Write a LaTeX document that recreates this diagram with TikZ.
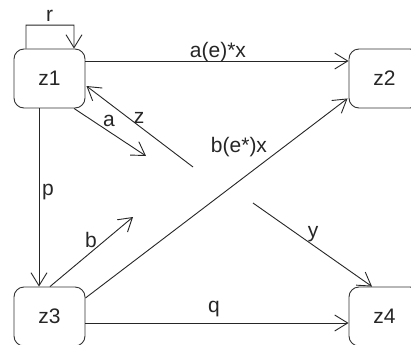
\documentclass[tikz,border=0pt]{standalone}
\usepackage{fontspec}
\setmainfont{Liberation Sans}
\usetikzlibrary{arrows.meta,calc}
\begin{document}
\begin{tikzpicture}[x=1bp,y=-1bp,
  state/.style={draw=black!80, line width=0.9bp, rounded corners=10bp, minimum width=71bp, minimum height=59bp, inner sep=0pt, font=\fontsize{21bp}{25bp}\selectfont, text=black!85},
  arr/.style={draw=black!85, line width=0.9bp, -{Straight Barb[length=13bp,width=16bp,line width=0.9bp]}},
  lbl/.style={font=\fontsize{21bp}{25bp}\selectfont, text=black!85, inner sep=0pt}]
\useasboundingbox (0,0) rectangle (411,345);
\clip (0,0) rectangle (411,345);
\fill[white] (0,0) rectangle (411,345);
% states
\node[state] (z1) at (49.5,78.5) {z1};
\node[state] (z2) at (384.5,78.5) {z2};
\node[state] (z3) at (49.5,316.5) {z3};
\node[state] (z4) at (384.5,316.5) {z4};
% free ends
\coordinate (zs) at (193,167);
\coordinate (ae) at (146,156);
\coordinate (be) at (133,217);
\coordinate (ys) at (253,203);
% self loop r
\draw[arr] ($(z1.north)+(-23.5,0)$) -- ++(0,-23.5) -- ++(48,0) -- ($(z1.north)+(24.5,0)$);
\node[lbl] (lr) at (49.5,15.5) {r};
% a(e)*x
\draw[arr] ($(z1.east)+(0,-17.5)$) -- ($(z2.west)+(0,-17.5)$);
\node[lbl] (lae) at (218,52) {a(e)*x};
% z
\draw[arr] (zs) -- ($(z1.east)+(1,7.5)$);
\node[lbl] (lz) at (139,118) {z};
% a
\draw[arr] ($(z1.south)+(24.5,0)$) -- (ae);
\node[lbl] (la) at (109,121) {a};
% p
\draw[arr] ($(z1.south)+(-10.5,0)$) -- ($(z3.north)+(-10.5,0)$);
\node[lbl] (lp) at (48,192) {p};
% b
\draw[arr] ($(z3.north)+(0.5,0)$) -- (be);
\node[lbl] (lb) at (91,240) {b};
% b(e*)x
\draw[arr] ($(z3.east)+(0,-18.5)$) -- ($(z2.south west)+(-1,-10)$);
\node[lbl] (lbe) at (239,147) {b(e*)x};
% q
\draw[arr] ($(z3.east)+(0,6.5)$) -- ($(z4.west)+(0,6.5)$);
\node[lbl] (lq) at (214,309) {q};
% y
\draw[arr] (ys) -- ($(z4.north)+(-12.5,0)$);
\node[lbl] (ly) at (313,234) {y};
\end{tikzpicture}
\end{document}
